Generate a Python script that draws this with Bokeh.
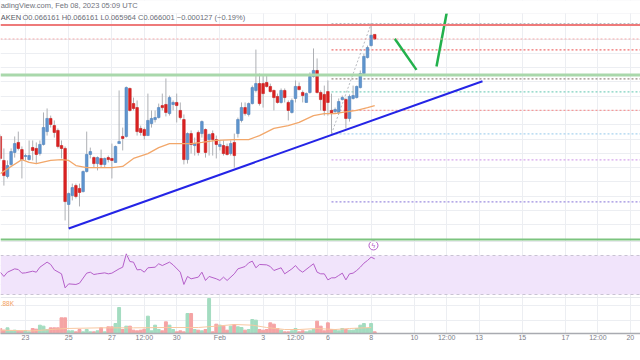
from bokeh.plotting import figure
from bokeh.models import Range1d, FixedTicker, Grid, Span, Label, BoxAnnotation, ColumnDataSource
from bokeh.embed import file_html
from bokeh.resources import INLINE

# ---------------- data (4h candles, KRAKEN, Jan 21 20:00 -> Feb 8 04:00 UTC) ----------------
# time axis: day of month counted from January (Feb 1 = 32)
T0 = 21 + 20 / 24
STEP = 4 / 24

opens = [0.06259,0.06175,0.06119,0.06161,0.06203,0.06238,0.06213,0.06189,0.06178,0.06220,
         0.06217,0.06199,0.06231,0.06276,0.06322,0.06297,0.06280,0.06227,0.06217,0.06021,
         0.06052,0.06087,0.06077,0.06066,0.06136,0.06196,0.06185,0.06164,0.06182,0.06161,
         0.06185,0.06182,0.06168,0.06234,0.06259,0.06259,0.06427,0.06374,0.06360,0.06287,
         0.06283,0.06262,0.06304,0.06318,0.06325,0.06367,0.06371,0.06339,0.06371,0.06378,
         0.06350,0.06318,0.06178,0.06269,0.06227,0.06273,0.06269,0.06283,0.06248,0.06269,
         0.06248,0.06224,0.06227,0.06224,0.06199,0.06238,0.06269,0.06315,0.06360,0.06336,
         0.06374,0.06420,0.06444,0.06444,0.06448,0.06434,0.06420,0.06399,0.06378,0.06420,
         0.06378,0.06343,0.06392,0.06434,0.06413,0.06378,0.06413,0.06469,0.06490,0.06413,
         0.06406,0.06416,0.06350,0.06346,0.06343,0.06388,0.06388,0.06322,0.06392,0.06395,
         0.06430,0.06479,0.06535,0.06577,0.066161]
highs = [0.06266,0.06217,0.06175,0.06217,0.06259,0.06276,0.06224,0.06199,0.06245,0.06245,
         0.06238,0.06245,0.06343,0.06357,0.06332,0.06315,0.06287,0.06245,0.06224,0.06063,
         0.06094,0.06094,0.06094,0.06140,0.06276,0.06220,0.06189,0.06189,0.06213,0.06185,
         0.06192,0.06234,0.06227,0.06420,0.06290,0.06434,0.06430,0.06395,0.06385,0.06297,
         0.06290,0.06409,0.06350,0.06350,0.06374,0.06409,0.06462,0.06402,0.06385,0.06409,
         0.06378,0.06336,0.06273,0.06280,0.06255,0.06280,0.06315,0.06287,0.06269,0.06280,
         0.06262,0.06245,0.06245,0.06234,0.06245,0.06269,0.06325,0.06378,0.06378,0.06378,
         0.06437,0.06563,0.06479,0.06472,0.06472,0.06444,0.06423,0.06409,0.06427,0.06427,
         0.06385,0.06392,0.06455,0.06448,0.06420,0.06413,0.06483,0.06567,0.06532,0.06420,
         0.06437,0.06455,0.06409,0.06360,0.06392,0.06402,0.06395,0.06406,0.06437,0.06437,
         0.06490,0.06549,0.06577,0.06656,0.066161]
lows = [0.06175,0.06087,0.06112,0.06154,0.06185,0.06210,0.06112,0.06175,0.06175,0.06175,
        0.06164,0.06192,0.06227,0.06262,0.06290,0.06255,0.06217,0.06182,0.05965,0.05937,
        0.06035,0.06042,0.06014,0.06063,0.06133,0.06182,0.06150,0.06140,0.06150,0.06150,
        0.06168,0.06112,0.06168,0.06234,0.06210,0.06255,0.06346,0.06350,0.06262,0.06262,
        0.06248,0.06262,0.06290,0.06308,0.06322,0.06350,0.06329,0.06332,0.06350,0.06308,
        0.06318,0.06161,0.06164,0.06199,0.06192,0.06192,0.06255,0.06185,0.06192,0.06192,
        0.06182,0.06210,0.06192,0.06192,0.06192,0.06150,0.06255,0.06308,0.06332,0.06329,
        0.06371,0.06413,0.06367,0.06360,0.06430,0.06413,0.06350,0.06374,0.06374,0.06378,
        0.06315,0.06339,0.06378,0.06420,0.06378,0.06378,0.06409,0.06465,0.06409,0.06350,
        0.06332,0.06332,0.06269,0.06339,0.06336,0.06385,0.06287,0.06311,0.06388,0.06392,
        0.06427,0.06476,0.06532,0.06574,0.065964]
closes = [0.06182,0.06122,0.06157,0.06206,0.06234,0.06217,0.06178,0.06192,0.06192,0.06210,
          0.06196,0.06231,0.06290,0.06322,0.06301,0.06273,0.06224,0.06217,0.06031,0.06059,
          0.06080,0.06049,0.06063,0.06136,0.06196,0.06206,0.06164,0.06185,0.06161,0.06182,
          0.06178,0.06175,0.06224,0.06241,0.06252,0.06430,0.06350,0.06357,0.06276,0.06273,
          0.06262,0.06315,0.06322,0.06325,0.06360,0.06360,0.06343,0.06395,0.06378,0.06367,
          0.06325,0.06178,0.06269,0.06231,0.06234,0.06203,0.06311,0.06203,0.06266,0.06248,
          0.06231,0.06231,0.06199,0.06196,0.06234,0.06192,0.06318,0.06360,0.06339,0.06374,
          0.06430,0.06444,0.06374,0.06409,0.06434,0.06416,0.06395,0.06378,0.06420,0.06395,
          0.06350,0.06385,0.06434,0.06423,0.06402,0.06409,0.06469,0.06490,0.06413,0.06388,
          0.06350,0.06378,0.06339,0.06353,0.06381,0.06395,0.06322,0.06399,0.06402,0.06434,
          0.06479,0.06539,0.06570,0.06613,0.066001]
volumes = [150,100,170,80,100,70,70,80,50,150,
           130,250,220,120,170,170,170,470,470,80,
           80,50,120,50,120,50,50,80,170,50,
           200,200,300,780,120,220,220,100,80,100,
           130,520,80,250,120,80,350,250,120,50,
           80,50,600,600,120,100,80,120,1050,50,
           280,250,220,100,220,270,200,180,100,120,
           420,400,120,100,120,320,280,150,100,50,
           50,80,150,50,80,50,80,120,370,220,
           80,320,120,120,80,150,120,100,100,150,
           250,300,150,300,50]

# moving average (candle index, value)
ma_idx = [0,3,6,8,10,14,17,19,21,24,28,31,34,37,41,44,47,50,53,56,60,65,69,72,76,80,83,87,90,93,95,99,102,104]
ma_val = [0.06129,0.06154,0.06178,0.06168,0.06164,0.06175,0.06178,0.06175,0.06157,0.06150,
          0.06150,0.06150,0.06154,0.06182,0.06199,0.06220,0.06234,0.06234,0.06234,0.06238,
          0.06245,0.06248,0.06248,0.06262,0.06287,0.06297,0.06308,0.06332,0.06339,0.06339,
          0.06343,0.06350,0.06360,0.06367]

# volume moving average (candle index, value)
vma_idx = [0,9,18,28,37,46,55,60,65,70,74,79,83,88,93,97,103]
vma_val = [100,80,150,170,170,180,180,220,270,250,180,120,120,150,120,150,180]

# RSI (candle index, value)
rsi_idx = [0,1,2,4,5,6,7,9,10,11,13,14,15,17,18,19,21,22,24,25,26,27,29,30,31,33,34,35,36,37,
           38,39,40,41,43,44,45,47,48,50,51,52,53,55,56,57,58,60,61,62,63,65,66,68,69,70,71,72,74,75,
           76,78,79,81,82,83,84,86,87,88,89,90,91,92,93,94,95,96,97,98,99,100,101,102,103,104]
rsi_val = [52.9,48.5,52.9,56.3,55.6,51.9,52.2,53.9,52.9,58.0,63.2,60.8,55.3,51.2,36.8,40.9,40.3,41.6,51.9,52.9,
           50.5,51.2,52.2,51.2,51.9,56.3,58.0,71.7,63.8,63.2,55.3,55.6,52.9,57.4,58.0,61.5,59.7,63.2,60.4,52.9,
           40.3,48.5,46.1,47.8,52.9,44.4,48.5,46.1,44.4,47.8,44.4,51.2,56.3,58.7,62.5,64.2,57.4,60.8,60.4,58.7,
           54.6,57.4,51.2,56.3,59.7,55.3,52.9,58.7,61.5,52.9,51.2,51.2,45.0,47.1,47.1,49.5,51.9,45.0,51.2,51.9,
           54.6,58.0,62.1,64.9,68.3,66.6]

# drawings
trend_x = [25.0, 44.157]
trend_y = [0.05937, 0.06452]
stroke1_x = [40.097, 41.102]
stroke1_y = [0.06601, 0.06492]
stroke2_x = [42.028, 42.52]
stroke2_y = [0.06504, 0.06700]
resistance_red = 0.06649
support_green = 0.06474
support_green_low = 0.05898
fib_low, fib_high = 0.06268, 0.06653
fib_low_idx, fib_high_idx = 92, 103
fib_levels = [0.0, 0.236, 0.5, 0.618, 0.786, 1.0, 1.236, 1.618]
fib_colors = ["#a3a6ae", "#ef6f6f", "#9a8a84", "#7fd1c0", "#f49a9a", "#a9d4ef", "#d6a6ec", "#9d8ee0"]

tick_days = [23, 25, 27, 28.5, 30, 32, 34, 35.5, 37, 39, 41, 42.5, 44, 46, 48, 49.5, 51]
tick_labels = ["23", "25", "27", "12:00", "30", "Feb", "3", "12:00", "6", "8", "10", "12:00",
               "13", "15", "17", "12:00", "20"]

price_grid = [0.0590, 0.0595, 0.0600, 0.0605, 0.0610, 0.0615, 0.0620, 0.0625, 0.0630,
              0.0635, 0.0640, 0.0645, 0.0650, 0.0655, 0.0660, 0.0665]
rsi_grid = [40, 60]
vol_grid = [400, 850]

# ---------------- figure ----------------
FONT = "Liberation Sans"
UP, UP_LINE = "#6096cf", "#4f82bb"
DN, DN_LINE = "#dc2222", "#c41b1b"
WICK = "#aeb0b4"
GRID = "#eceef2"

n = len(opens)
xs = [T0 + i * STEP for i in range(n)]
up = [c >= o for o, c in zip(opens, closes)]

p = figure(width=640, height=360,
           x_range=Range1d(21.8426, 51.4722),
           y_range=Range1d(0.055693, 0.067348),
           output_backend="svg", toolbar_location=None,
           x_axis_location="below", y_axis_location=None,
           min_border_left=0, min_border_right=0, min_border_top=0, min_border_bottom=27,
           outline_line_color=None, background_fill_color="white", border_fill_color="white")
p.title.visible = False
p.extra_y_ranges = {"rsi": Range1d(-10, 331.54), "vol": Range1d(0, 9990)}

# grids
p.ygrid.visible = False
p.xgrid.ticker = FixedTicker(ticks=tick_days)
p.xgrid.grid_line_color = GRID
p.add_layout(Grid(dimension=1, ticker=FixedTicker(ticks=price_grid), grid_line_color=GRID))
p.add_layout(Grid(dimension=1, y_range_name="rsi", ticker=FixedTicker(ticks=rsi_grid), grid_line_color=GRID))
p.add_layout(Grid(dimension=1, y_range_name="vol", ticker=FixedTicker(ticks=vol_grid), grid_line_color=GRID))

# axis
ax = p.xaxis[0]
ax.ticker = FixedTicker(ticks=tick_days)
ax.major_label_overrides = {d: l for d, l in zip(tick_days, tick_labels)}
ax.major_tick_line_color = None
ax.minor_tick_line_color = None
ax.major_tick_out = 0
ax.major_tick_in = 0
ax.axis_line_color = "#a9abb1"
ax.axis_line_width = 1.5
ax.major_label_standoff = 0
ax.major_label_text_font = FONT
ax.major_label_text_font_size = "7px"
ax.major_label_text_color = "#7b7e88"

# pane separators
p.add_layout(Span(location=84.4, dimension="width", y_range_name="rsi", line_color="#e6e8ec", line_width=1))
p.add_layout(Span(location=1080, dimension="width", y_range_name="vol", line_color="#e6e8ec", line_width=1))

# RSI band
p.add_layout(BoxAnnotation(bottom=30, top=70, y_range_name="rsi", fill_color="#f1e4fb", fill_alpha=1.0,
                           line_color=None, level="underlay"))
for lvl in (30, 70):
    p.add_layout(Span(location=lvl, dimension="width", y_range_name="rsi", line_color="#c9c3d3",
                      line_dash="3 3", line_width=1))

# horizontal drawn lines
p.add_layout(Span(location=support_green_low, dimension="width", line_color="#7cc47f", line_width=2))
p.add_layout(Span(location=support_green, dimension="width", line_color="#a9d8ab", line_width=3))
p.add_layout(Span(location=resistance_red, dimension="width", line_color="#ee7a7a", line_width=2))

# fib retracement
fx0 = T0 + fib_low_idx * STEP
fx1 = T0 + fib_high_idx * STEP
fib_prices = [fib_high - lv * (fib_high - fib_low) for lv in fib_levels]
p.segment(x0=[fx0] * len(fib_prices), x1=[52.0] * len(fib_prices), y0=fib_prices, y1=fib_prices,
          line_color=fib_colors, line_width=1.3, line_dash="2 2")
p.line([fx0, fx1], [fib_low, fib_high], line_color="#b8bac0", line_width=1, line_dash="2 2")

# last price line
p.add_layout(Span(location=closes[-1], dimension="width", line_color="#f5a7a7", line_width=1, line_dash="2 2"))

# volume
vsrc = ColumnDataSource(dict(x=xs, top=volumes,
                             color=["#a3dcc0" if u else "#f5a3a4" for u in up]))
p.vbar(x="x", top="top", bottom=0, width=0.135, color="color", source=vsrc, y_range_name="vol")
p.line([T0 + i * STEP for i in vma_idx], vma_val, y_range_name="vol", line_color="#f8c7a0", line_width=1)

# RSI line
p.line([T0 + i * STEP for i in rsi_idx], rsi_val, y_range_name="rsi", line_color="#b55fc9", line_width=1)

# candles
src = ColumnDataSource(dict(
    x=xs, high=highs, low=lows,
    top=[max(o, c) for o, c in zip(opens, closes)],
    bottom=[min(o, c) if abs(o - c) > 0.00002 else max(o, c) - 0.00002 for o, c in zip(opens, closes)],
    fill=[UP if u else DN for u in up],
    line=[UP_LINE if u else DN_LINE for u in up]))
p.segment(x0="x", x1="x", y0="low", y1="high", line_color=WICK, line_width=1, source=src)
p.vbar(x="x", top="top", bottom="bottom", width=0.12, fill_color="fill", line_color="line",
       line_width=0.6, source=src)

# moving average
p.line([T0 + i * STEP for i in ma_idx], ma_val, line_color="#f2a76a", line_width=1.3)

# trend line & strokes
p.line(trend_x, trend_y, line_color="#2424e6", line_width=2)
p.line(stroke1_x, stroke1_y, line_color="#22b14c", line_width=2.5)
p.line(stroke2_x, stroke2_y, line_color="#22b14c", line_width=2.5)

# RSI alert icon
p.scatter(x=[39.11], y=[80.3], y_range_name="rsi", marker="circle", size=9,
          fill_color="white", line_color="#b55fc9", line_width=1)
p.add_layout(Label(x=39.11, y=80.3, y_range_name="rsi", text="ϟ", text_font=FONT, text_font_size="7px",
                   text_color="#b55fc9", text_align="center", text_baseline="middle"))

# top bar
p.add_layout(BoxAnnotation(bottom=0.066893, fill_color="white", fill_alpha=1.0, line_color="#e3e5ea",
                           line_width=1))
p.add_layout(Label(x=21.85, y=0.067173, text="adingView.com, Feb 08, 2023 05:09 UTC", text_font=FONT,
                   text_font_size="7.5px", text_color="#6f727c", text_align="left", text_baseline="middle"))
p.add_layout(Label(x=21.85, y=0.066753, text="AKEN", text_font=FONT,
                   text_font_size="7.5px", text_color="#555861", text_align="left", text_baseline="middle"))
p.add_layout(Label(x=22.86, y=0.066753,
                   text="O0.066161  H0.066161  L0.065964  C0.066001  \u22120.000127 (\u22120.19%)",
                   text_font=FONT, text_font_size="7.5px", text_color="#6a6d76",
                   text_align="left", text_baseline="middle"))

# volume label
p.add_layout(Label(x=21.85, y=900, y_range_name="vol", text=".88K", text_font=FONT, text_font_size="6.5px",
                   text_color="#f4a15c", text_align="left", text_baseline="middle"))

open("out.html", "w").write(file_html(p, INLINE))
